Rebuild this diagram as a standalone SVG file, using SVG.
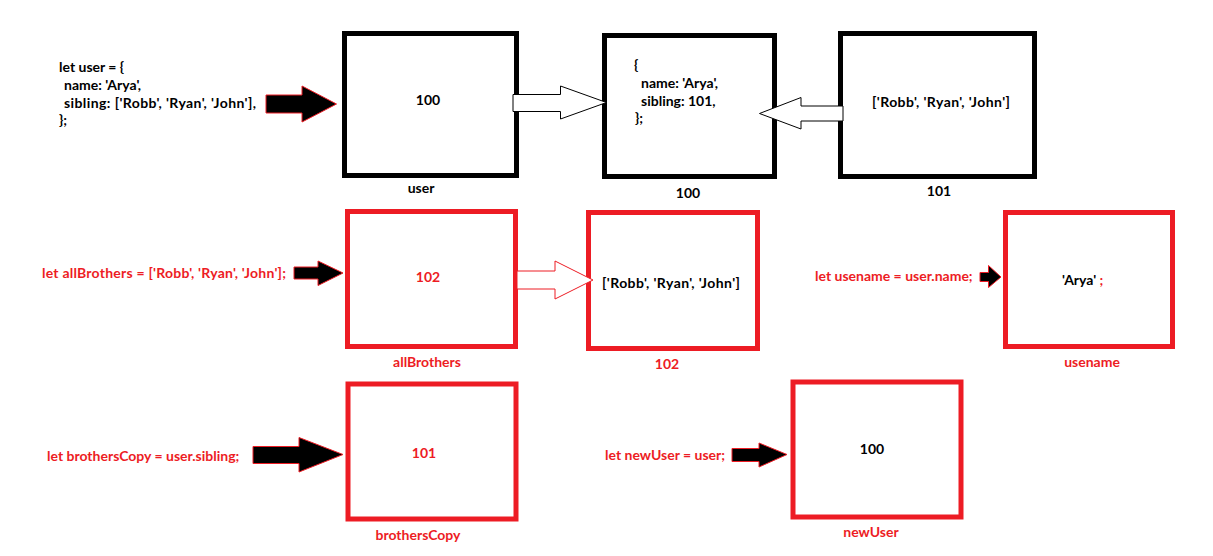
<svg xmlns="http://www.w3.org/2000/svg" width="1213" height="556" viewBox="0 0 1213 556">
<style>
  text { font-family: Lato, Carlito, "Liberation Sans", sans-serif; font-weight: bold; font-size: 14px; }
  .k { fill: #000; }
  .r { fill: #ED1C24; }
  .c { text-anchor: middle; }
  .bk { fill: #fff; stroke: #000; stroke-width: 5; }
  .br { fill: #fff; stroke: #ED1C24; stroke-width: 5; }
  .solid { fill: #000; stroke: #ED1C24; stroke-width: 1; }
  .holk { fill: #fff; stroke: #000; stroke-width: 1; }
  .holr { fill: #fff; stroke: #ED1C24; stroke-width: 1; }
</style>
<rect width="1213" height="556" fill="#fff"/>

<g id="code-user">
  <text class="k" x="59" y="72">let user = {</text>
  <text class="k" x="64" y="90">name: 'Arya',</text>
  <text class="k" x="64" y="108" textLength="192" lengthAdjust="spacing">sibling: ['Robb', 'Ryan', 'John'],</text>
  <text class="k" x="59" y="125">};</text>
</g>

<g id="node-user">
  <rect class="bk" x="344.5" y="33.5" width="172" height="142"/>
  <text class="k c" x="428" y="105">100</text>
  <text class="k c" x="421" y="193">user</text>
</g>

<g id="node-100">
  <rect class="bk" x="604.5" y="35.5" width="170" height="141"/>
  <text class="k" x="634" y="70">{</text>
  <text class="k" x="641" y="88">name: 'Arya',</text>
  <text class="k" x="641" y="106">sibling: 101,</text>
  <text class="k" x="635" y="123">};</text>
  <text class="k c" x="688" y="198">100</text>
</g>

<g id="node-101">
  <rect class="bk" x="840.5" y="33.5" width="194" height="143"/>
  <text class="k" x="872" y="107" textLength="138" lengthAdjust="spacing">['Robb', 'Ryan', 'John']</text>
  <text class="k c" x="939" y="196">101</text>
</g>

<g id="code-allBrothers">
  <text class="r" x="42" y="278" textLength="244" lengthAdjust="spacing">let allBrothers = ['Robb', 'Ryan', 'John'];</text>
</g>

<g id="node-allBrothers">
  <rect class="br" x="347.5" y="211.5" width="168" height="135"/>
  <text class="r c" x="428" y="282">102</text>
  <text class="r c" x="427" y="367">allBrothers</text>
</g>

<g id="node-102">
  <rect class="br" x="588.5" y="212.5" width="169" height="136"/>
  <text class="k" x="602" y="288" textLength="138" lengthAdjust="spacing">['Robb', 'Ryan', 'John']</text>
  <text class="r c" x="667" y="369">102</text>
</g>

<g id="code-usename">
  <text class="r" x="815" y="281">let usename = user.name;</text>
</g>

<g id="node-usename">
  <rect class="br" x="1005.5" y="212.5" width="167" height="134"/>
  <text x="1062" y="285"><tspan class="k">'Arya'</tspan><tspan class="r"> ;</tspan></text>
  <text class="r c" x="1092" y="367">usename</text>
</g>

<g id="code-brothersCopy">
  <text class="r" x="47" y="461">let brothersCopy = user.sibling;</text>
</g>

<g id="node-brothersCopy">
  <rect class="br" x="348" y="384" width="168" height="135"/>
  <text class="r c" x="424" y="458">101</text>
  <text class="r c" x="418" y="540">brothersCopy</text>
</g>

<g id="code-newUser">
  <text class="r" x="605" y="460">let newUser = user;</text>
</g>

<g id="node-newUser">
  <rect class="br" x="793" y="382" width="168" height="135"/>
  <text class="k c" x="872" y="454">100</text>
  <text class="r c" x="871" y="537">newUser</text>
</g>

<g id="connectors">
  <polygon class="solid" points="266,95 302,95 302,86 336.5,104 302,122 302,113 266,113"/>
  <polygon class="holk" points="513,94.5 560.5,94.5 560.5,86 606.5,102.5 560.5,119 560.5,111.5 513,111.5"/>
  <polygon class="holk" points="843,106 801,106 801,97.5 759.5,113.5 801,129 801,121 843,121"/>
  <polygon class="solid" points="294,267 318,267 318,261 343,273 318,285.5 318,279 294,279"/>
  <polygon class="holr" points="517,271 555,271 555,261 593,280 555,299 555,289 517,289"/>
  <polygon class="solid" points="980,272.5 988.5,272.5 988.5,265.5 1001,277 988.5,287.5 988.5,281.5 980,281.5"/>
  <polygon class="solid" points="253,446.5 299,446.5 299,437.5 343,454.5 299,472 299,463.5 253,463.5"/>
  <polygon class="solid" points="732,448.5 759,448.5 759,443 787,454.5 759,467 759,461.5 732,461.5"/>
</g>
</svg>
